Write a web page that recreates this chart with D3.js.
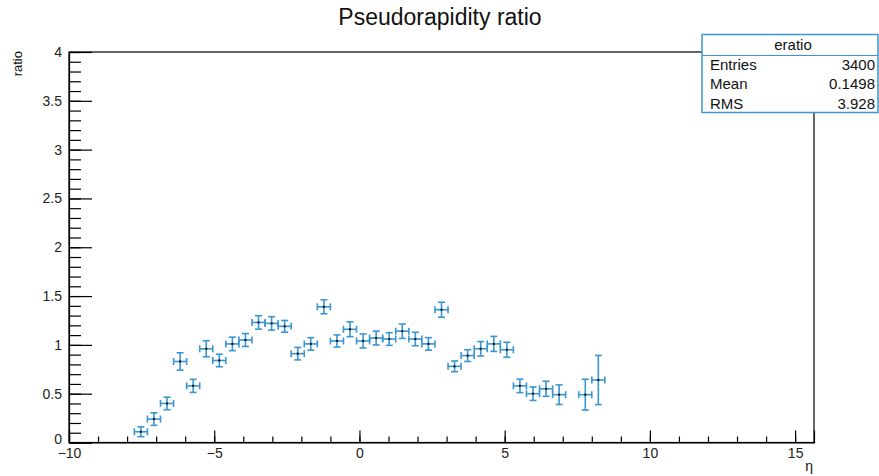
<!DOCTYPE html>
<html>
<head>
<meta charset="utf-8">
<script src="https://cdn.jsdelivr.net/npm/d3@7"></script>
<style>
  body { margin: 0; background: #fff; }
  svg text { font-family: "Liberation Sans", Arial, sans-serif; }
</style>
</head>
<body>
<div id="chart"></div>
<script>
// bin centres (eta), ratio, vertical error
const eta = [-7.525, -7.075, -6.625, -6.175, -5.725, -5.275, -4.825, -4.375, -3.925, -3.475,
             -3.025, -2.575, -2.125, -1.675, -1.225, -0.775, -0.325, 0.125, 0.575, 1.025,
             1.475, 1.925, 2.375, 2.825, 3.275, 3.725, 4.175, 4.625, 5.075, 5.525,
             5.975, 6.425, 6.875, 7.775, 8.225];
const ratio = [0.11, 0.24, 0.40, 0.83, 0.58, 0.96, 0.84, 1.01, 1.05, 1.23,
               1.22, 1.19, 0.91, 1.01, 1.39, 1.04, 1.16, 1.04, 1.07, 1.06,
               1.14, 1.06, 1.01, 1.36, 0.78, 0.89, 0.96, 1.01, 0.95, 0.58,
               0.50, 0.55, 0.49, 0.49, 0.64];
const ratioErr = [0.05, 0.064, 0.064, 0.089, 0.067, 0.082, 0.064, 0.069, 0.066, 0.069,
                  0.069, 0.06, 0.064, 0.064, 0.072, 0.062, 0.076, 0.072, 0.071, 0.065,
                  0.074, 0.069, 0.064, 0.077, 0.055, 0.06, 0.074, 0.077, 0.077, 0.069,
                  0.069, 0.077, 0.10, 0.158, 0.252];
const binWidth = 0.45;

const xMajor = [-10, -5, 0, 5, 10, 15];
const xMinor = d3.range(-10, 16, 1);
const yMajor = [0, 0.5, 1, 1.5, 2, 2.5, 3, 3.5, 4];
const yMinor = d3.range(0, 4.01, 0.1);

const statLabels = ["Entries", "Mean", "RMS"];
const statValues = ["3400", "0.1498", "3.928"];

const blue = "#3a96d2";

// canevas
const W = 879, H = 476;
const margin = { top: 52, right: 65, bottom: 33.5, left: 69 };
const width = W - margin.left - margin.right,
      height = H - margin.top - margin.bottom;

const svg = d3.select("#chart").append("svg")
    .attr("width", W).attr("height", H);

const g = svg.append("g")
    .attr("transform", "translate(" + margin.left + "," + margin.top + ")");

const x = d3.scaleLinear().domain([-10, 15.65]).range([0, width]);
const y = d3.scaleLinear().domain([0, 4]).range([height, 0]);

// frame
g.append("rect")
    .attr("width", width).attr("height", height)
    .attr("fill", "none").attr("stroke", "#000").attr("stroke-width", 1.2);

// axes (ticks pointing inside)
g.append("g").attr("transform", "translate(0," + height + ")")
    .call(d3.axisBottom(x).tickValues(xMinor).tickSize(-6).tickFormat(""))
    .call(a => a.select(".domain").remove());
const xAx = g.append("g").attr("transform", "translate(0," + height + ")")
    .call(d3.axisBottom(x).tickValues(xMajor).tickSize(-12).tickPadding(5.5));
xAx.select(".domain").attr("stroke-width", 1.2);
xAx.selectAll("text").style("font-size", "14px").attr("fill", "#222");

g.append("g")
    .call(d3.axisLeft(y).tickValues(yMinor).tickSize(-12).tickFormat(""))
    .call(a => a.select(".domain").remove());
const yAx = g.append("g")
    .call(d3.axisLeft(y).tickValues(yMajor).tickSize(-23).tickPadding(7).tickFormat(d3.format("")));
yAx.select(".domain").attr("stroke-width", 1.2);
yAx.selectAll("text").style("font-size", "14px").attr("fill", "#222")
    .attr("dy", d => d === 0 ? "0.05em" : "0.32em");
g.selectAll(".tick line").attr("stroke-width", 1.2);

// error bars
const pts = g.selectAll(".pt")
    .data(eta.map((e, i) => ({ eta: e, v: ratio[i], err: ratioErr[i] })))
    .enter().append("g").attr("class", "pt");

pts.append("line")
    .attr("x1", d => x(d.eta - binWidth / 2)).attr("x2", d => x(d.eta + binWidth / 2))
    .attr("y1", d => y(d.v)).attr("y2", d => y(d.v));
pts.append("line")
    .attr("x1", d => x(d.eta)).attr("x2", d => x(d.eta))
    .attr("y1", d => y(d.v - d.err)).attr("y2", d => y(d.v + d.err));
// caps
[-1, 1].forEach(s => {
  pts.append("line")
      .attr("x1", d => x(d.eta + s * binWidth / 2)).attr("x2", d => x(d.eta + s * binWidth / 2))
      .attr("y1", d => y(d.v) - 3.5).attr("y2", d => y(d.v) + 3.5);
  pts.append("line")
      .attr("x1", d => x(d.eta) - 3.5).attr("x2", d => x(d.eta) + 3.5)
      .attr("y1", d => y(d.v + s * d.err)).attr("y2", d => y(d.v + s * d.err));
});
pts.selectAll("line").attr("stroke", blue).attr("stroke-width", 1.6);
pts.append("rect")
    .attr("x", d => x(d.eta) - 1).attr("y", d => y(d.v) - 1)
    .attr("width", 2).attr("height", 2).attr("fill", "#111");

// titres
svg.append("text")
    .text("Pseudorapidity ratio")
    .attr("x", 440).attr("y", 25)
    .attr("text-anchor", "middle")
    .style("font-size", "23px").attr("fill", "#111");

svg.append("text")
    .text("ratio")
    .attr("transform", "translate(22,51) rotate(-90)")
    .attr("text-anchor", "end")
    .style("font-size", "13px").attr("fill", "#111");

svg.append("text")
    .text("η")
    .attr("x", margin.left + width - 1).attr("y", 471)
    .attr("text-anchor", "end")
    .style("font-size", "14px").attr("fill", "#111");

// stats box
const box = svg.append("g").attr("transform", "translate(702,34.5)");
box.append("rect")
    .attr("width", 176).attr("height", 78)
    .attr("fill", "#fff").attr("stroke", blue).attr("stroke-width", 1.5);
box.append("line")
    .attr("x1", 0).attr("x2", 176).attr("y1", 21).attr("y2", 21)
    .attr("stroke", blue).attr("stroke-width", 1.2);
box.append("text")
    .text("eratio")
    .attr("x", 91).attr("y", 15.5)
    .attr("text-anchor", "middle")
    .style("font-size", "15px").attr("fill", "#111");
statLabels.forEach((s, i) => {
  box.append("text").text(s)
      .attr("x", 8).attr("y", 35 + i * 19.5)
      .style("font-size", "15px").attr("fill", "#111");
  box.append("text").text(statValues[i])
      .attr("x", 173).attr("y", 35 + i * 19.5)
      .attr("text-anchor", "end")
      .style("font-size", "15px").attr("fill", "#111");
});
</script>
</body>
</html>
